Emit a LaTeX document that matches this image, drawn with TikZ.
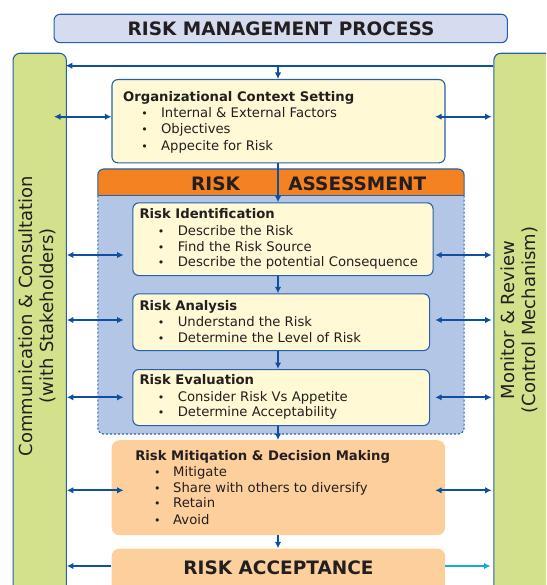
\documentclass[tikz,border=0pt]{standalone}
\usepackage{fontspec}
\setmainfont{DejaVu Sans}
\usetikzlibrary{arrows.meta}
\definecolor{lineblue}{HTML}{2461AB}
\definecolor{arrowblue}{HTML}{0E4FA0}
\definecolor{cyanarrow}{HTML}{16A9E1}
\definecolor{titlefill}{HTML}{D6DCF0}
\definecolor{grn}{HTML}{D4E18B}
\definecolor{ylw}{HTML}{FFF9D5}
\definecolor{orng}{HTML}{F58221}
\definecolor{regblue}{HTML}{B4C6E6}
\definecolor{peach}{HTML}{FDCF9C}
\definecolor{txt}{HTML}{231F20}
\begin{document}
\begin{tikzpicture}[x=1pt,y=-1pt,
  boxline/.style={draw=lineblue, line width=1.1pt, rounded corners=6pt},
  ybox/.style={boxline, fill=ylw, anchor=north west, inner sep=0pt},
  pbox/.style={fill=peach, rounded corners=8pt, anchor=north west, inner sep=0pt},
  bar/.style={boxline, fill=grn, anchor=north west, inner sep=0pt, rounded corners=7pt},
  tip/.tip={Latex[length=6.5pt,width=6.5pt]},
  arr/.style={draw=arrowblue, line width=1.7pt, -tip},
  darr/.style={draw=arrowblue, line width=1.7pt, tip-tip},
  body/.style={anchor=base west, inner sep=0pt, font=\fontsize{13.2}{16}\selectfont, text=txt},
  head/.style={body, font=\fontsize{13.2}{16}\selectfont\bfseries},
  bul/.style={anchor=base, inner sep=0pt, font=\fontsize{11}{16}\selectfont, text=txt},
  big/.style={font=\fontsize{18.5}{22}\selectfont\bfseries, text=txt, inner sep=0pt},
  side/.style={font=\fontsize{18}{21.5}\selectfont, rotate=90, align=center, text=txt, inner sep=0pt}
]
\useasboundingbox (0,0) rectangle (546,585);
\clip (0,0) rectangle (546,585);

% side bars
\node[bar, minimum width=53.3, minimum height=600] (lbar) at (12.5,52.7) {};
\node[bar, minimum width=80, minimum height=600] (rbar) at (493.3,52.7) {};
\node[side] (ltext) at (37.5,316) {Communication \& Consultation\\(with Stakeholders)};
\node[side] (rtext) at (519.2,320) {Monitor \& Review\\(Control Mechanism)};

% title
\node[boxline, fill=titlefill, minimum width=453.3, minimum height=28.4, inner sep=0pt] (title) at (280.7,28.5) {};
\node[big, anchor=base] (titletext) at (281,35.5) {RISK MANAGEMENT PROCESS};

% organizational context
\node[ybox, minimum width=333, minimum height=83.3] (org) at (111.4,79) {};
\node[head] (oT) at (122.9,101.5) {Organizational Context Setting};
\foreach \y/\t [count=\i] in {117.7/Internal \& External Factors, 134/Objectives, 150.5/Appecite for Risk}{
  \node[bul] (ob\i) at (144.5,\y) {\textbullet};
  \node[body] (oi\i) at (160.9,\y) {\t};
}

% risk assessment block
\fill[orng, rounded corners=6pt] (97.8,169) rectangle (464.1,205);
\path[fill=regblue, draw=lineblue, line width=1.1pt, dash pattern=on 2pt off 2pt, rounded corners=6pt]
  (97.8,195.5) -- (97.8,434) -- (464.1,434) -- (464.1,195.5);
\draw[draw=lineblue, line width=1.1pt, rounded corners=6pt]
  (97.8,195.5) -- (97.8,169) -- (464.1,169) -- (464.1,195.5);
\draw[draw=lineblue, line width=1.1pt] (97.8,195.5) -- (464.1,195.5);
\node[big, anchor=base west] (ra1) at (191,190.7) {RISK};
\node[big, anchor=base west] (ra2) at (288.2,190.7) {ASSESSMENT};

% risk identification
\node[ybox, minimum width=300.2, minimum height=72.7] (rid) at (132.3,202.3) {};
\node[head] (iT) at (139.3,218.3) {Risk Identification};
\foreach \y/\t [count=\i] in {235/Describe the Risk, 251/Find the Risk Source, 266.7/Describe the potential Consequence}{
  \node[bul] (ib\i) at (161.2,\y) {\textbullet};
  \node[body] (ii\i) at (177.6,\y) {\t};
}

% risk analysis
\node[ybox, minimum width=296.7, minimum height=56.7] (ran) at (132.3,293.3) {};
\node[head] (aT) at (139.3,310) {Risk Analysis};
\foreach \y/\t [count=\i] in {326.7/Understand the Risk, 342.7/Determine the Level of Risk}{
  \node[bul] (ab\i) at (161.2,\y) {\textbullet};
  \node[body] (ai\i) at (177.6,\y) {\t};
}

% risk evaluation
\node[ybox, minimum width=296.7, minimum height=56] (rev) at (132.3,369) {};
\node[head] (eT) at (139.3,384.5) {Risk Evaluation};
\foreach \y/\t [count=\i] in {401/Consider Risk Vs Appetite, 416.7/Determine Acceptability}{
  \node[bul] (eb\i) at (161.2,\y) {\textbullet};
  \node[body] (ei\i) at (177.6,\y) {\t};
}

% mitigation
\node[pbox, minimum width=333.6, minimum height=95] (mit) at (111.4,440) {};
\node[head] (mT) at (135.1,460) {Risk Mitiqation \& Decision Making};
\foreach \y/\t [count=\i] in {476/Mitigate, 492.3/Share with others to diversify, 507.7/Retain, 524.3/Avoid}{
  \node[bul] (mb\i) at (157.4,\y) {\textbullet};
  \node[body] (mi\i) at (173,\y) {\t};
}

% acceptance
\node[pbox, minimum width=333.6, minimum height=60] (acc) at (111.4,548.3) {};
\node[big, anchor=base] (acctext) at (278.5,574.3) {RISK ACCEPTANCE};

% connectors
\coordinate (topR) at (493.3,65.7);
\coordinate (topL) at (65.8,65.7);
\coordinate (topM) at (278,65.7);
\draw[arr] (topR) -- (topL);
\draw[arr] (topM) -- (org.north -| topM);
\draw[arr] (org.south -| topM) -- (rid.north -| topM);
\draw[arr] (rid.south -| topM) -- (ran.north -| topM);
\draw[arr] (ran.south -| topM) -- (rev.north -| topM);
\draw[arr] (rev.south -| topM) -- (mit.north -| topM);
\draw[arr] (mit.south -| topM) -- (acc.north -| topM);

% double arrows
\coordinate (oL) at (54,116.7);
\coordinate (oR) at (491.6,116.7);
\coordinate (oRi) at (435.2,116.7);
\draw[darr] (oL) -- (org.west |- oL);
\draw[darr] (oRi) -- (oR);
\foreach \y [count=\i] in {255,320,397.3,490.3}{
  \coordinate (dl\i) at (66.9,\y);
  \coordinate (dli\i) at (123.6,\y);
  \coordinate (dr\i) at (435.2,\y);
  \coordinate (dri\i) at (491.6,\y);
  \draw[darr] (dl\i) -- (dli\i);
  \draw[darr] (dr\i) -- (dri\i);
}
\coordinate (aL) at (66.9,566);
\coordinate (aR) at (490.5,566);
\draw[arr] (acc.west |- aL) -- (aL);
\draw[arr, draw=cyanarrow] (acc.east |- aR) -- (aR);
\end{tikzpicture}
\end{document}
